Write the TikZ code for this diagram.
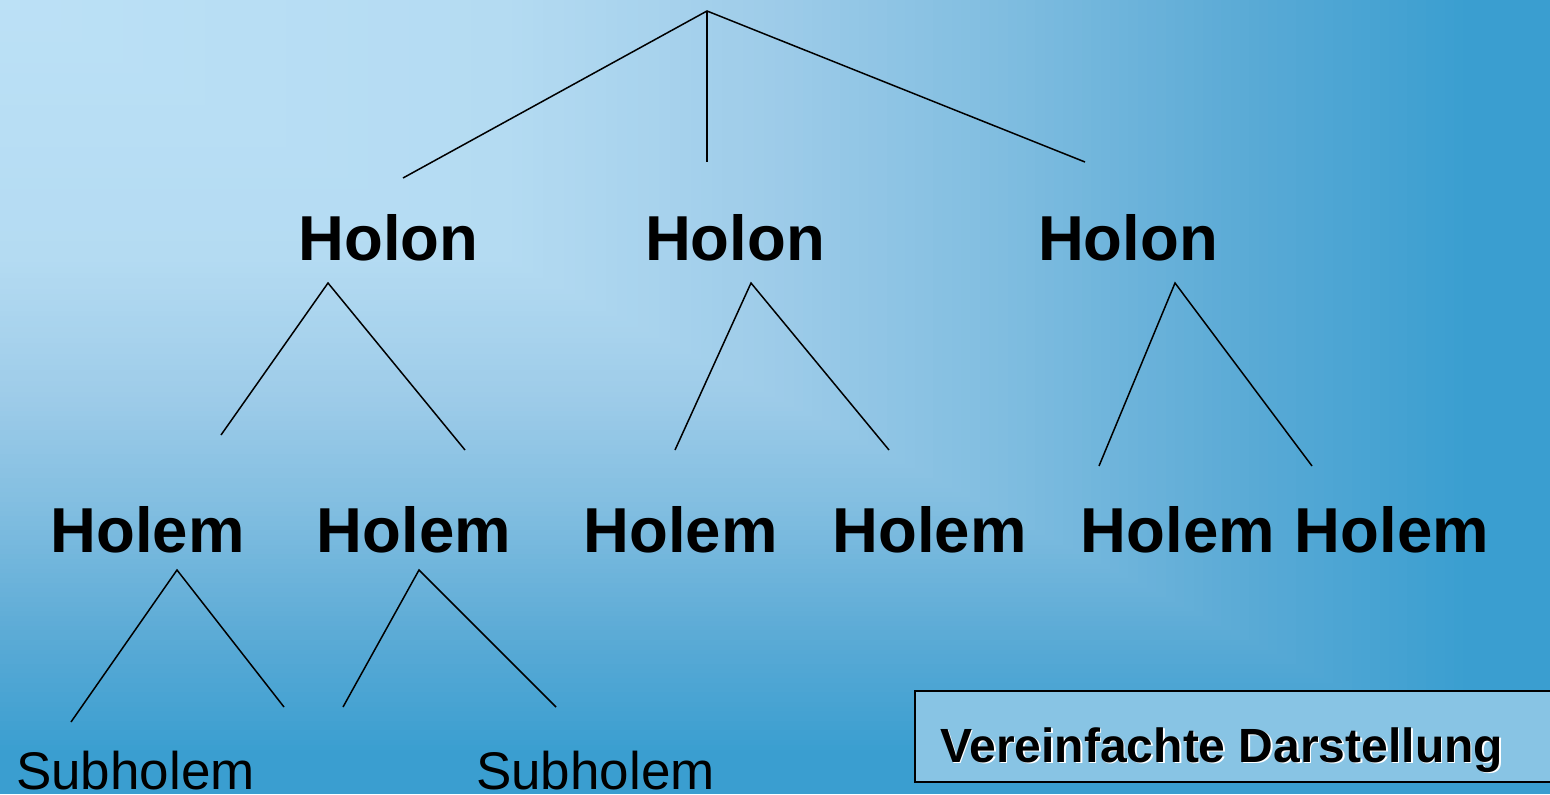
\documentclass[tikz,border=0pt]{standalone}
\usepackage{fontspec}
\setmainfont{Liberation Sans}
\definecolor{bgA}{RGB}{188,225,246}
\definecolor{bgB}{RGB}{180,219,242}
\definecolor{bgC}{RGB}{158,204,233}
\definecolor{bgD}{RGB}{128,189,224}
\definecolor{bgE}{RGB}{92,171,214}
\definecolor{bgF}{RGB}{58,158,208}
\definecolor{boxblue}{RGB}{136,196,228}
\begin{document}
\begin{tikzpicture}[x=1bp,y=-1bp,
  holon/.style={font=\fontsize{63.5bp}{70bp}\selectfont\bfseries, anchor=base, inner sep=0pt},
  subh/.style={font=\fontsize{53bp}{60bp}\selectfont, anchor=base, inner sep=0pt},
  label/.style={font=\fontsize{48bp}{56bp}\selectfont\bfseries, anchor=base west, inner sep=0pt},
  branch/.style={line width=1.5bp, black}]
\useasboundingbox (0,0) rectangle (1550,794);
\clip (0,0) rectangle (1550,794);
% background: rectangular gradient from the top-left corner
\fill[bgF] (0,0) rectangle (1550,794);
\foreach \ta/\tb/\ca/\cb in {0.95/0.8/bgF/bgE, 0.8/0.65/bgE/bgD, 0.65/0.5/bgD/bgC, 0.5/0.33/bgC/bgB, 0.33/0/bgB/bgA}{
  \foreach \i in {0,...,24}{
    \pgfmathsetmacro\myt{\ta+(\tb-\ta)*\i/25}
    \pgfmathtruncatemacro\myp{4*\i}
    \fill[\cb!\myp!\ca] (0,0) rectangle ({1550*\myt},{794*\myt});
  }
}
% text nodes
\node[holon] (h1) at (388.5,260) {Holon};
\node[holon] (h2) at (735,260) {Holon};
\node[holon] (h3) at (1128,260) {Holon};
\node[holon] (m1) at (147.5,552) {Holem};
\node[holon] (m2) at (414,552) {Holem};
\node[holon] (m3) at (680.5,552) {Holem};
\node[holon] (m4) at (929.5,552) {Holem};
\node[holon] (m5) at (1178,552) {Holem};
\node[holon] (m6) at (1392,552) {Holem};
\node[subh] (s1) at (135.5,789) {Subholem};
\node[subh] (s2) at (595.5,789) {Subholem};
% branch coordinates
\coordinate (top) at (707,11);
\coordinate (t1) at (403,178);
\coordinate (t2) at (707,162);
\coordinate (t3) at (1085,162);
\coordinate (a1) at (328,283);
\coordinate (a1l) at (221,435);
\coordinate (a1r) at (465,450);
\coordinate (a2) at (751,283);
\coordinate (a2l) at (675,450);
\coordinate (a2r) at (889,450);
\coordinate (a3) at (1175,283);
\coordinate (a3l) at (1099,466);
\coordinate (a3r) at (1312,466);
\coordinate (b1) at (177,570);
\coordinate (b1l) at (71,722);
\coordinate (b1r) at (284,707);
\coordinate (b2) at (419,570);
\coordinate (b2l) at (343,707);
\coordinate (b2r) at (556,707);
\draw[branch] (t1) -- (top) -- (t3);
\draw[branch] (top) -- (t2);
\draw[branch] (a1l) -- (a1) -- (a1r);
\draw[branch] (a2l) -- (a2) -- (a2r);
\draw[branch] (a3l) -- (a3) -- (a3r);
\draw[branch] (b1l) -- (b1) -- (b1r);
\draw[branch] (b2l) -- (b2) -- (b2r);
% label box
\draw[fill=boxblue, line width=2bp] (915,691) rectangle (1560,782);
\node[label, white] (vshadow) at (941.5,763.5) {Vereinfachte Darstellung};
\node[label, black] (vtext) at (940,762) {Vereinfachte Darstellung};
\end{tikzpicture}
\end{document}
